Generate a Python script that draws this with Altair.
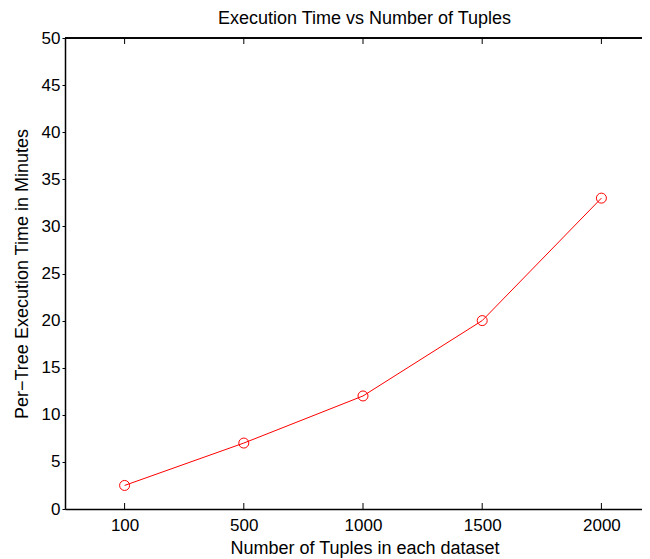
import altair as alt
import pandas as pd

# ---- data ----
tuples = ["100", "500", "1000", "1500", "2000"]
minutes = [2.5, 7, 12, 20, 33]
y_ticks = [0, 5, 10, 15, 20, 25, 30, 35, 40, 45, 50]

df = pd.DataFrame({"tuples": tuples, "minutes": minutes})

FONT = "Liberation Sans"
W, H = 577, 471          # visible part of the plot box
FULL_W = 596             # the reference's plot box runs past the right edge
RED = "#ff0000"
FS = 17
TFS = 18

x_scale = alt.Scale(type="point", padding=0.5, range=[0, FULL_W])
x_axis = alt.Axis(
    title="Number of Tuples in each dataset", labelAngle=0, ticks=False, tickSize=0,
    labelPadding=8, titlePadding=6, domainColor="black", domainWidth=1.5,
    labelColor="black", titleColor="black", labelFontSize=FS, titleFontSize=TFS,
    labelFont=FONT, titleFont=FONT, titleFontWeight="normal", grid=False,
    titleX=299.5,
)
y_axis = alt.Axis(
    values=y_ticks, title="Per−Tree Execution Time in Minutes", tickSize=3,
    tickColor="black", labelPadding=2, titlePadding=10, grid=False,
    domainColor="black", domainWidth=1.5, labelColor="black", titleColor="black",
    labelFontSize=FS, titleFontSize=TFS, labelFont=FONT, titleFont=FONT,
    titleFontWeight="normal",
)

x_enc = alt.X("tuples:N", sort=tuples, scale=x_scale, axis=x_axis)
y_enc = alt.Y("minutes:Q", scale=alt.Scale(domain=[0, 50], nice=False), axis=y_axis)

base = alt.Chart(df)
line = base.mark_line(color=RED, strokeWidth=1).encode(x=x_enc, y=y_enc)
pts = base.mark_point(shape="circle", filled=False, color=RED, size=100,
                      strokeWidth=1, opacity=1).encode(
    x=alt.X("tuples:N", sort=tuples), y="minutes:Q")
bot_ticks = base.mark_rule(color="black", strokeWidth=1).encode(
    x=alt.X("tuples:N", sort=tuples), y=alt.value(H), y2=alt.value(H - 6))
top_ticks = base.mark_rule(color="black", strokeWidth=1).encode(
    x=alt.X("tuples:N", sort=tuples), y=alt.value(0), y2=alt.value(6))
top_edge = base.mark_rule(color="black", strokeWidth=1).encode(
    x=alt.value(0), x2=alt.value(W), y=alt.value(0))

chart = alt.layer(line, pts, bot_ticks, top_ticks, top_edge).properties(
    width=W, height=H,
    padding={"left": 57, "top": 30, "right": 0, "bottom": 50},
    autosize=alt.AutoSizeParams(type="none"),
    title=alt.TitleParams(text="Execution Time vs Number of Tuples", font=FONT,
                          fontSize=TFS, fontWeight="normal", color="black",
                          offset=1, anchor="middle", frame="group", dx=11),
).configure_view(stroke=None)

chart.save("out.html", embed_options={"renderer": "svg", "actions": False})
